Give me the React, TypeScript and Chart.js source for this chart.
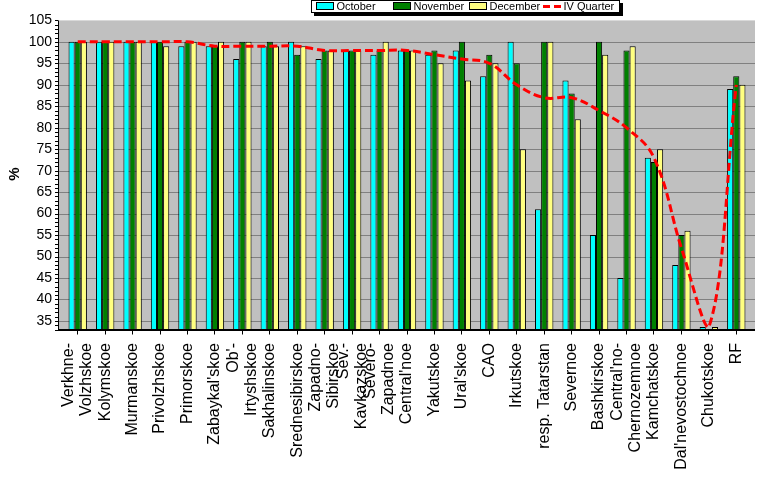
import React, { useEffect, useRef } from "react";
import { Chart, registerables } from "chart.js";

Chart.register(...registerables);

const categories: (string | string[])[] = [
  ["Verkhne-", "Volzhskoe"],
  "Kolymskoe",
  "Murmanskoe",
  "Privolzhskoe",
  "Primorskoe",
  "Zabaykal'skoe",
  ["Ob'-", "Irtyshskoe"],
  "Sakhalinskoe",
  "Srednesibirskoe",
  ["Zapadno-", "Sibirskoe"],
  ["Sev.-", "Kavkazskoe"],
  ["Severo-", "Zapadnoe"],
  "Central'noe",
  "Yakutskoe",
  "Ural'skoe",
  "CAO",
  "Irkutskoe",
  "resp. Tatarstan",
  "Severnoe",
  "Bashkirskoe",
  ["Central'no-", "Chernozemnoe"],
  "Kamchatskoe",
  "Dal'nevostochnoe",
  "Chukotskoe",
  "RF",
];

const october = [100, 100, 100, 100, 99, 99, 96, 99, 100, 96, 98, 97, 98, 97, 98, 92, 100, 61, 91, 55, 45, 73, 48, 33.6, 89];
const november = [100, 100, 100, 100, 100, 99, 100, 100, 97, 98, 98, 98, 98, 98, 100, 97, 95, 100, 88, 100, 98, 72, 55, 33, 92];
const december = [100, 100, 100, 99, 100, 100, 100, 99, 99, 98, 98, 100, 98, 95, 91, 95, 75, 100, 82, 97, 99, 75, 56, 33.6, 90];
const quarter = [100, 100, 100, 100, 100, 99, 99, 99, 99, 98, 98, 98, 98, 97, 96, 95, 90, 87, 87, 84, 80, 73, 52, 33.5, 90];

const yTicks = [35, 40, 45, 50, 55, 60, 65, 70, 75, 80, 85, 90, 95, 100, 105];
const seriesNames = ["October", "November", "December", "IV Quarter"];
const yTitle = "%";

const FONT = "'Liberation Sans', Arial, Helvetica, sans-serif";
const Y_MIN = 33;
const Y_MAX = 105;

// Plot frame extends slightly beyond category band (as in the Excel original)
const FRAME_LEFT = 58;
const FRAME_RIGHT = 755;
const X_LABEL_LINE = 18;
const X_LABEL_TOP = 343;

const plotFrame = {
  id: "plotFrame",
  beforeDraw(chart: any) {
    const { ctx, chartArea, scales } = chart;
    const y = scales.y;
    const top = chartArea.top;
    const bottom = chartArea.bottom;
    ctx.save();
    ctx.fillStyle = "#C0C0C0";
    ctx.fillRect(FRAME_LEFT, top, FRAME_RIGHT - FRAME_LEFT, bottom - top);
    ctx.strokeStyle = "#808080";
    ctx.lineWidth = 1;
    for (const v of yTicks) {
      if (v >= Y_MAX) continue;
      const py = Math.round(y.getPixelForValue(v)) + 0.5;
      ctx.beginPath();
      ctx.moveTo(FRAME_LEFT, py);
      ctx.lineTo(FRAME_RIGHT, py);
      ctx.stroke();
    }
    // y title
    ctx.fillStyle = "#000";
    ctx.font = `bold 15px ${FONT}`;
    ctx.translate(15, 174);
    ctx.rotate(-Math.PI / 2);
    ctx.textAlign = "center";
    ctx.textBaseline = "middle";
    ctx.fillText(yTitle, 0, 0);
    ctx.restore();

    // x category labels (rotated, multi-line as columns centred on the tick)
    const x = scales.x;
    ctx.save();
    ctx.fillStyle = "#000";
    ctx.font = `16px ${FONT}`;
    ctx.textAlign = "right";
    ctx.textBaseline = "middle";
    chart.data.labels.forEach((lab: any, i: number) => {
      const lines: string[] = Array.isArray(lab) ? lab : [lab];
      const cx = x.getPixelForValue(i);
      lines.forEach((ln, j) => {
        const px = cx + (j - (lines.length - 1) / 2) * X_LABEL_LINE;
        ctx.save();
        ctx.translate(px, X_LABEL_TOP);
        ctx.rotate(-Math.PI / 2);
        ctx.fillText(ln, 0, 0);
        ctx.restore();
      });
    });
    ctx.restore();
  },
  afterDatasetsDraw(chart: any) {
    const { ctx, chartArea, scales } = chart;
    const y = scales.y;
    ctx.save();
    ctx.strokeStyle = "#000";
    ctx.lineWidth = 1;
    // y axis line
    ctx.beginPath();
    ctx.moveTo(FRAME_LEFT + 0.5, chartArea.top);
    ctx.lineTo(FRAME_LEFT + 0.5, chartArea.bottom + 1);
    ctx.stroke();
    // minor ticks on y axis
    for (let v = Math.ceil(Y_MIN); v <= Y_MAX; v++) {
      const py = Math.round(y.getPixelForValue(v)) + 0.5;
      ctx.beginPath();
      ctx.moveTo(FRAME_LEFT - 3, py);
      ctx.lineTo(FRAME_LEFT, py);
      ctx.stroke();
    }
    // bottom axis (thicker)
    ctx.lineWidth = 2;
    ctx.beginPath();
    ctx.moveTo(FRAME_LEFT, chartArea.bottom + 0.5);
    ctx.lineTo(FRAME_RIGHT, chartArea.bottom + 0.5);
    ctx.stroke();
    ctx.restore();
  },
};

const legendBox = {
  id: "legendBox",
  afterDraw(chart: any) {
    const { ctx } = chart;
    const x0 = 311;
    const y0 = 0;
    const w = 308;
    const h = 12;
    const offsets = [5, 82, 158, 232];
    ctx.save();
    ctx.fillStyle = "#000";
    ctx.fillRect(x0 + 3, y0 + 3, w + 1, h + 1);
    ctx.fillStyle = "#fff";
    ctx.fillRect(x0, y0, w, h);
    ctx.strokeStyle = "#000";
    ctx.lineWidth = 1;
    ctx.strokeRect(x0 + 0.5, y0 + 0.5, w, h);
    ctx.font = `11px ${FONT}`;
    ctx.textBaseline = "middle";
    ctx.textAlign = "left";
    chart.data.datasets.forEach((ds: any, i: number) => {
      const sx = x0 + offsets[i];
      if (ds.type === "line") {
        ctx.strokeStyle = ds.borderColor;
        ctx.lineWidth = 3;
        ctx.setLineDash([7, 4]);
        ctx.beginPath();
        ctx.moveTo(sx, 6.5);
        ctx.lineTo(sx + 19, 6.5);
        ctx.stroke();
        ctx.setLineDash([]);
      } else {
        ctx.fillStyle = ds.backgroundColor;
        ctx.fillRect(sx + 0.5, 2.5, 17, 7);
        ctx.strokeStyle = "#000";
        ctx.lineWidth = 1;
        ctx.strokeRect(sx + 0.5, 2.5, 17, 7);
      }
      ctx.fillStyle = "#000";
      ctx.fillText(ds.label, sx + 20.5, 6.5);
    });
    ctx.restore();
  },
};

export default function App() {
  const ref = useRef<HTMLCanvasElement>(null);

  useEffect(() => {
    document.body.style.margin = "0";
    Chart.defaults.font.family = FONT;
    Chart.defaults.color = "#000";
    const barCommon = {
      borderColor: "#000",
      borderWidth: 1,
      categoryPercentage: 0.67,
      barPercentage: 1.0,
      order: 1,
    };
    const chart = new Chart(ref.current as HTMLCanvasElement, {
      type: "bar",
      data: {
        labels: categories,
        datasets: [
          { ...barCommon, type: "bar", label: seriesNames[0], data: october, backgroundColor: "#00FFFF" },
          { ...barCommon, type: "bar", label: seriesNames[1], data: november, backgroundColor: "#008000" },
          { ...barCommon, type: "bar", label: seriesNames[2], data: december, backgroundColor: "#FFFF80" },
          {
            type: "line",
            label: seriesNames[3],
            data: quarter,
            borderColor: "#FF0000",
            backgroundColor: "#FF0000",
            borderWidth: 3,
            borderDash: [8, 4],
            pointRadius: 0,
            tension: 0.4,
            fill: false,
            order: 0,
          } as any,
        ],
      },
      options: {
        responsive: false,
        maintainAspectRatio: false,
        animation: false,
        devicePixelRatio: 1,
        layout: { padding: { top: 20, right: 27, left: 0, bottom: 0 } },
        plugins: {
          legend: { display: false },
          tooltip: { enabled: false },
          title: { display: false },
        },
        scales: {
          x: {
            grid: {
              display: true,
              drawOnChartArea: false,
              drawTicks: true,
              tickLength: 5,
              offset: false,
              color: "#000",
            },
            border: { display: false },
            ticks: {
              display: false,
              autoSkip: false,
            },
            afterFit(scale: any) {
              scale.height = 149.5;
            },
          },
          y: {
            min: Y_MIN,
            max: Y_MAX,
            grid: { display: false, drawTicks: false },
            border: { display: false },
            ticks: {
              padding: 12,
              color: "#000",
              font: { size: 14, family: FONT },
            },
            afterBuildTicks(scale: any) {
              scale.ticks = yTicks.map((v) => ({ value: v }));
            },
            afterFit(scale: any) {
              scale.width = 64;
            },
          },
        },
      },
      plugins: [plotFrame, legendBox],
    } as any);
    return () => chart.destroy();
  }, []);

  return (
    <div style={{ width: 777, height: 479 }}>
      <canvas ref={ref} width={777} height={479} style={{ display: "block" }} />
    </div>
  );
}
